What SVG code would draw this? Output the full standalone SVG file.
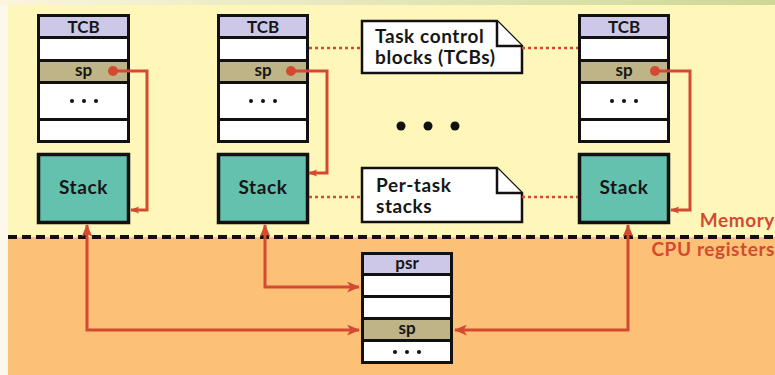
<svg xmlns="http://www.w3.org/2000/svg" width="775" height="375" viewBox="0 0 775 375">
<defs>
<style>
.t{font-family:Lato,"Open Sans","Liberation Sans",sans-serif;font-weight:700;fill:#161616}
.blk{fill:#111}
.hdr{fill:#cdc8e8}
.wht{fill:#ffffff}
.spf{fill:#bfb487}
.stk{fill:#63c1ad;stroke:#111;stroke-width:3.5}
.red{fill:none;stroke:#d44a30;stroke-width:3}
.dot{fill:none;stroke:#d44a30;stroke-width:2.5;stroke-dasharray:3 3}
.call{fill:#fff;stroke:#111;stroke-width:2.5}
.ct{font-size:19px;letter-spacing:0.6px}
.lbl{font-family:Lato,"Open Sans","Liberation Sans",sans-serif;font-weight:700;fill:#d44a30;font-size:19px;letter-spacing:0.6px}
</style>
<linearGradient id="topg" x1="0" x2="1" y1="0" y2="0">
<stop offset="0" stop-color="#fbf5dc"/>
<stop offset="1" stop-color="#cdd896"/>
</linearGradient>
<marker id="ah" viewBox="0 0 12 10" refX="11" refY="5" markerWidth="13" markerHeight="11" markerUnits="userSpaceOnUse" orient="auto-start-reverse">
<path d="M0,0 L12,5 L0,10 L3,5 Z" fill="#d44a30"/>
</marker>
<marker id="ahs" viewBox="0 0 10 8" refX="9" refY="4" markerWidth="9" markerHeight="8" markerUnits="userSpaceOnUse" orient="auto">
<path d="M0,0 L10,4 L0,8 L2,4 Z" fill="#d44a30"/>
</marker>
</defs>

<g id="background">
<rect x="0" y="0" width="775" height="375" fill="#fdf8ec"/>
<rect x="0" y="0" width="775" height="5" fill="url(#topg)"/>
<rect x="8" y="5" width="767" height="232" fill="#fef7b9"/>
<rect x="8" y="237" width="767" height="138" fill="#fcc077"/>
<line x1="8" y1="237" x2="775" y2="237" stroke="#111" stroke-width="4" stroke-dasharray="9 5"/>
</g>

<g id="tcb1" transform="translate(37,0)">
<rect x="0" y="14" width="93" height="129" class="blk"/>
<rect x="3" y="17" width="87" height="19" class="hdr"/>
<rect x="3" y="39" width="87" height="20" class="wht"/>
<rect x="3" y="62" width="87" height="19" class="spf"/>
<rect x="3" y="84" width="87" height="34" class="wht"/>
<rect x="3" y="121" width="87" height="19" class="wht"/>
<text x="46.5" y="33" text-anchor="middle" class="t" font-size="17">TCB</text>
<text x="46.5" y="76" text-anchor="middle" class="t" font-size="17">sp</text>
<circle cx="35" cy="101" r="2" class="blk"/><circle cx="47" cy="101" r="2" class="blk"/><circle cx="59" cy="101" r="2" class="blk"/>
</g>
<g id="stack1"><rect x="38.5" y="154.5" width="90" height="68" class="stk"/><text x="83.5" y="194" text-anchor="middle" class="t" font-size="19" letter-spacing="0.6">Stack</text></g>

<g id="tcb2" transform="translate(217,0)">
<rect x="0" y="14" width="92" height="129" class="blk"/>
<rect x="3" y="17" width="86" height="19" class="hdr"/>
<rect x="3" y="39" width="86" height="20" class="wht"/>
<rect x="3" y="62" width="86" height="19" class="spf"/>
<rect x="3" y="84" width="86" height="34" class="wht"/>
<rect x="3" y="121" width="86" height="19" class="wht"/>
<text x="46" y="33" text-anchor="middle" class="t" font-size="17">TCB</text>
<text x="46" y="76" text-anchor="middle" class="t" font-size="17">sp</text>
<circle cx="34" cy="101" r="2" class="blk"/><circle cx="46" cy="101" r="2" class="blk"/><circle cx="58" cy="101" r="2" class="blk"/>
</g>
<g id="stack2"><rect x="218.5" y="154.5" width="89" height="68" class="stk"/><text x="263" y="194" text-anchor="middle" class="t" font-size="19" letter-spacing="0.6">Stack</text></g>

<g id="tcb3" transform="translate(578,0)">
<rect x="0" y="14" width="92" height="129" class="blk"/>
<rect x="3" y="17" width="86" height="19" class="hdr"/>
<rect x="3" y="39" width="86" height="20" class="wht"/>
<rect x="3" y="62" width="86" height="19" class="spf"/>
<rect x="3" y="84" width="86" height="34" class="wht"/>
<rect x="3" y="121" width="86" height="19" class="wht"/>
<text x="46" y="33" text-anchor="middle" class="t" font-size="17">TCB</text>
<text x="46" y="76" text-anchor="middle" class="t" font-size="17">sp</text>
<circle cx="34" cy="101" r="2" class="blk"/><circle cx="46" cy="101" r="2" class="blk"/><circle cx="58" cy="101" r="2" class="blk"/>
</g>
<g id="stack3"><rect x="579.5" y="154.5" width="89" height="68" class="stk"/><text x="624" y="194" text-anchor="middle" class="t" font-size="19" letter-spacing="0.6">Stack</text></g>

<g id="registers">
<rect x="361" y="252" width="92" height="112" class="blk"/>
<rect x="364" y="255" width="86" height="18" class="hdr"/>
<rect x="364" y="276" width="86" height="19" class="wht"/>
<rect x="364" y="298" width="86" height="19" class="wht"/>
<rect x="364" y="320" width="86" height="19" class="spf"/>
<rect x="364" y="342" width="86" height="19" class="wht"/>
<text x="407" y="269" text-anchor="middle" class="t" font-size="17">psr</text>
<text x="407" y="334" text-anchor="middle" class="t" font-size="17">sp</text>
<circle cx="395" cy="352" r="2" class="blk"/><circle cx="407" cy="352" r="2" class="blk"/><circle cx="419" cy="352" r="2" class="blk"/>
</g>

<g id="callout-tcbs">
<path d="M362,21 H497 L522,46 V73 H362 Z" class="call"/>
<path d="M497,21 V46 H522" class="call"/>
<text x="375" y="43" class="t ct">Task control</text>
<text x="375" y="64" class="t ct">blocks (TCBs)</text>
</g>
<g id="callout-stacks">
<path d="M362,168 H497 L522,193 V222 H362 Z" class="call"/>
<path d="M497,168 V193 H522" class="call"/>
<text x="376" y="192" class="t ct">Per-task</text>
<text x="376" y="213" class="t ct">stacks</text>
</g>

<g id="ellipsis">
<circle cx="401" cy="126" r="4.5" class="blk"/><circle cx="428" cy="126" r="4.5" class="blk"/><circle cx="455" cy="126" r="4.5" class="blk"/>
</g>

<g id="labels">
<text x="775" y="227" text-anchor="end" class="lbl">Memory</text>
<text x="775" y="256" text-anchor="end" class="lbl">CPU registers</text>
</g>

<g id="connectors">
<line x1="309" y1="48" x2="362" y2="48" class="dot"/>
<line x1="522" y1="48" x2="578" y2="48" class="dot"/>
<line x1="309" y1="197" x2="362" y2="197" class="dot"/>
<line x1="522" y1="197" x2="578" y2="197" class="dot"/>

<circle cx="113" cy="71" r="5" fill="#d44a30"/>
<path d="M113,71 H147 V210 H131" class="red" marker-end="url(#ahs)"/>
<circle cx="291" cy="71" r="5" fill="#d44a30"/>
<path d="M291,71 H327 V173 H309" class="red" marker-end="url(#ahs)"/>
<circle cx="655" cy="71" r="5" fill="#d44a30"/>
<path d="M655,71 H690 V210 H671" class="red" marker-end="url(#ahs)"/>

<path d="M87,225 V330 H359" class="red" marker-start="url(#ah)" marker-end="url(#ah)"/>
<path d="M265,225 V287 H359" class="red" marker-start="url(#ah)" marker-end="url(#ah)"/>
<path d="M628,225 V330 H455" class="red" marker-start="url(#ah)" marker-end="url(#ah)"/>
</g>
</svg>
